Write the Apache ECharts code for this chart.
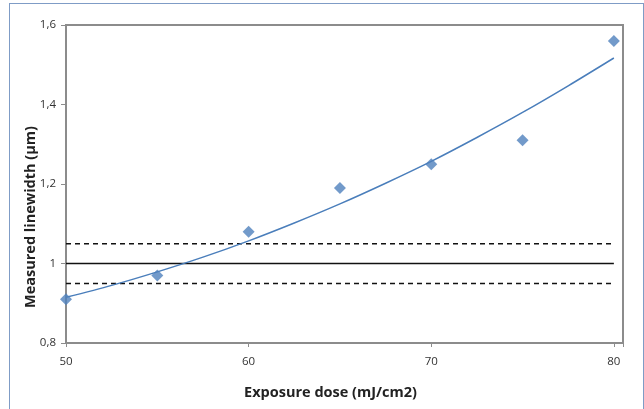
<!DOCTYPE html>
<html><head><meta charset="utf-8">
<script src="https://cdn.jsdelivr.net/npm/echarts@6/dist/echarts.min.js"></script>
<style>html,body{margin:0;padding:0;background:#fff}#frame{position:absolute;left:9px;top:3px;width:635px;height:420px;border:1px solid #7f9cc6;box-sizing:border-box}#c{width:644px;height:409px;position:absolute;left:0;top:0}</style>
</head><body><div id="frame"></div><div id="c"></div>
<script>
const doses = [50, 55, 60, 65, 70, 75, 80];
const measured = [0.91, 0.97, 1.08, 1.19, 1.25, 1.31, 1.56];
const trendX = [50, 52.5, 55, 57.5, 60, 62.5, 65, 67.5, 70, 72.5, 75, 77.5, 80];
const trendY = [0.915, 0.945, 0.979, 1.016, 1.057, 1.102, 1.150, 1.202, 1.257, 1.317, 1.380, 1.447, 1.517];
const targetLine = [1.0];
const toleranceLines = [0.95, 1.05];
const yTicks = [0.8, 1.0, 1.2, 1.4, 1.6];
const xTicks = [50, 60, 70, 80];

const chart = echarts.init(document.getElementById('c'), null, {renderer: 'canvas'});
const font = 'Open Sans';
const hline = (v, type) => ({
  type: 'line', data: [[doses[0], v], [doses[doses.length - 1], v]], symbol: 'none', silent: true,
  lineStyle: {color: '#111', width: 1.5, type: type}, z: 2
});
chart.setOption({
  animation: false,
  backgroundColor: 'transparent',
  grid: {left: 66, top: 25, right: 21, bottom: 66, show: true, borderColor: '#8c8c8c', borderWidth: 2},
  xAxis: {
    type: 'value', min: 50, max: 80.5, interval: 10,
    name: 'Exposure dose (mJ/cm2)', nameLocation: 'middle', nameGap: 42, nameMoveOverlap: false,
    nameTextStyle: {fontFamily: font, fontWeight: 'bold', fontSize: 14.5, color: '#222', padding: [0, 28, 0, 0]},
    axisLine: {show: true, onZero: false, lineStyle: {color: '#8c8c8c', width: 2}},
    axisTick: {show: true, length: 4, lineStyle: {color: '#8c8c8c'}},
    axisLabel: {fontFamily: font, fontSize: 11.5, color: '#333', margin: 13,
      formatter: v => xTicks.includes(v) ? String(v) : ''},
    splitLine: {show: false}
  },
  yAxis: {
    type: 'value', min: 0.8, max: 1.6, interval: 0.2,
    name: 'Measured linewidth (µm)', nameLocation: 'middle', nameGap: 28, nameRotate: 90, nameMoveOverlap: false,
    nameTextStyle: {fontFamily: font, fontWeight: 'bold', fontSize: 14.5, color: '#222', padding: [0, 66, 0, 0]},
    axisLine: {show: true, lineStyle: {color: '#8c8c8c', width: 2}},
    axisTick: {show: true, length: 5, lineStyle: {color: '#8c8c8c'}},
    axisLabel: {fontFamily: font, fontSize: 11.5, color: '#333', margin: 10,
      formatter: v => String(Math.round(v * 10) / 10).replace('.', ',')},
    splitLine: {show: false}
  },
  series: [
    hline(targetLine[0], 'solid'),
    hline(toleranceLines[0], [5, 4]),
    hline(toleranceLines[1], [5, 4]),
    {type: 'line', data: trendX.map((x, i) => [x, trendY[i]]), smooth: 0.3, symbol: 'none',
      lineStyle: {color: '#4a7ebb', width: 1.5}, z: 3},
    {type: 'scatter', data: doses.map((x, i) => [x, measured[i]]), symbol: 'diamond', symbolSize: 12,
      itemStyle: {color: '#4f81bd'}, z: 4}
  ]
});
</script></body></html>
